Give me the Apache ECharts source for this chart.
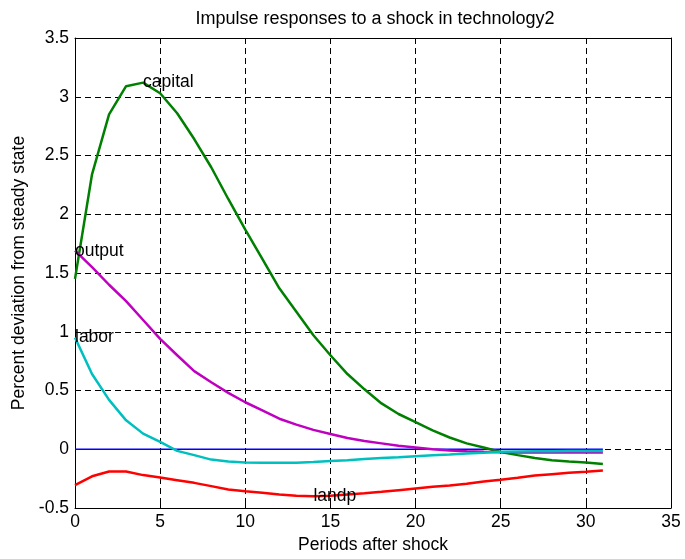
<!DOCTYPE html>
<html><head><meta charset="utf-8">
<script src="https://cdn.jsdelivr.net/npm/echarts@6/dist/echarts.min.js"></script>
<style>html,body{margin:0;padding:0;background:#fff}#c{width:685px;height:559px}</style>
</head><body><div id="c"></div>
<script>
const periods = [0,1,2,3,4,5,6,7,8,9,10,11,12,13,14,15,16,17,18,19,20,21,22,23,24,25,26,27,28,29,30,31];
const capital = [1.45,2.34,2.85,3.09,3.12,3.03,2.86,2.64,2.40,2.13,1.87,1.62,1.37,1.17,0.97,0.80,0.64,0.51,0.39,0.30,0.23,0.16,0.10,0.05,0.015,-0.023,-0.05,-0.075,-0.093,-0.105,-0.113,-0.125];
const output = [1.69,1.55,1.40,1.26,1.10,0.94,0.80,0.665,0.57,0.48,0.40,0.33,0.26,0.21,0.165,0.13,0.095,0.07,0.05,0.03,0.015,0.0,-0.01,-0.018,-0.022,-0.025,-0.027,-0.028,-0.028,-0.028,-0.028,-0.028];
const labor = [0.95,0.64,0.42,0.246,0.133,0.062,-0.014,-0.05,-0.088,-0.105,-0.113,-0.115,-0.115,-0.115,-0.108,-0.10,-0.093,-0.082,-0.075,-0.068,-0.06,-0.052,-0.045,-0.037,-0.03,-0.022,-0.02,-0.018,-0.016,-0.015,-0.015,-0.014];
const landp = [-0.305,-0.23,-0.19,-0.19,-0.22,-0.24,-0.263,-0.286,-0.314,-0.342,-0.357,-0.37,-0.385,-0.396,-0.40,-0.396,-0.385,-0.374,-0.362,-0.348,-0.334,-0.32,-0.308,-0.294,-0.274,-0.26,-0.243,-0.224,-0.212,-0.20,-0.192,-0.181];
const zeroLine = periods.map(() => 0);
const labels = [
  {name:'capital', at:4},
  {name:'output', at:0},
  {name:'labor', at:0},
  {name:'landp', at:14}
];

const FONT = 'Liberation Sans, Arial, sans-serif';
const FS = 17.5;
const chart = echarts.init(document.getElementById('c'), null, {renderer:'canvas'});
function pairs(arr){ return periods.map((p,i)=>[p,arr[i]]); }
function mk(name, arr, color, lbl){
  const s = {
    type:'line', name:name, data:pairs(arr), showSymbol:false, symbol:'none',
    lineStyle:{color:color, width:2.5}, itemStyle:{color:color}, animation:false, z:3
  };
  if (lbl){
    s.markPoint = {
      symbol:'circle', symbolSize:0, animation:false,
      label:{show:true, position:'right', distance:0, formatter:lbl.name, color:'#000', fontSize:FS, fontFamily:FONT},
      data:[{coord:[periods[lbl.at], arr[lbl.at]], value:lbl.name}]
    };
  }
  return s;
}
const splitStyle = {show:true, lineStyle:{color:'#000', type:[6,4], width:1}};
const option = {
  backgroundColor:'#fff',
  animation:false,
  title:{text:'Impulse responses to a shock in technology2', left:370, top:5, textAlign:'center',
    textStyle:{color:'#000', fontSize:18, fontWeight:'normal', fontFamily:FONT}},
  grid:{left:75, right:14, top:38, bottom:50, show:false},
  xAxis:[
    {type:'value', min:0, max:35, interval:5, position:'bottom',
      name:'Periods after shock', nameLocation:'middle', nameGap:28,
      nameTextStyle:{color:'#000', fontSize:FS, fontFamily:FONT},
      axisLine:{show:true, onZero:false, lineStyle:{color:'#000', width:1}},
      axisTick:{show:true, inside:true, length:5, lineStyle:{color:'#000'}},
      axisLabel:{color:'#000', fontSize:FS, fontFamily:FONT, margin:5},
      splitLine:splitStyle},
    {type:'value', min:0, max:35, interval:5, position:'top',
      axisLine:{show:true, onZero:false, lineStyle:{color:'#000'}},
      axisTick:{show:true, inside:true, length:5, lineStyle:{color:'#000'}},
      axisLabel:{show:false}, splitLine:{show:false}}
  ],
  yAxis:[
    {type:'value', min:-0.5, max:3.5, interval:0.5, position:'left',
      name:'Percent deviation from steady state', nameLocation:'middle', nameGap:47, nameRotate:90,
      nameTextStyle:{color:'#000', fontSize:FS, fontFamily:FONT},
      axisLine:{show:true, onZero:false, lineStyle:{color:'#000', width:1}},
      axisTick:{show:true, inside:true, length:5, lineStyle:{color:'#000'}},
      axisLabel:{color:'#000', fontSize:FS, fontFamily:FONT, margin:6},
      splitLine:splitStyle},
    {type:'value', min:-0.5, max:3.5, interval:0.5, position:'right',
      axisLine:{show:true, onZero:false, lineStyle:{color:'#000'}},
      axisTick:{show:true, inside:true, length:5, lineStyle:{color:'#000'}},
      axisLabel:{show:false}, splitLine:{show:false}}
  ],
  series:[
    {type:'line', name:'zero', data:pairs(zeroLine), showSymbol:false, symbol:'none',
      lineStyle:{color:'#0000ff', width:1.3}, animation:false, z:2},
    mk('capital', capital, '#008000', labels[0]),
    mk('output', output, '#bf00bf', labels[1]),
    mk('labor', labor, '#00bfbf', labels[2]),
    mk('landp', landp, '#ff0000', labels[3])
  ]
};
chart.setOption(option);
</script></body></html>
